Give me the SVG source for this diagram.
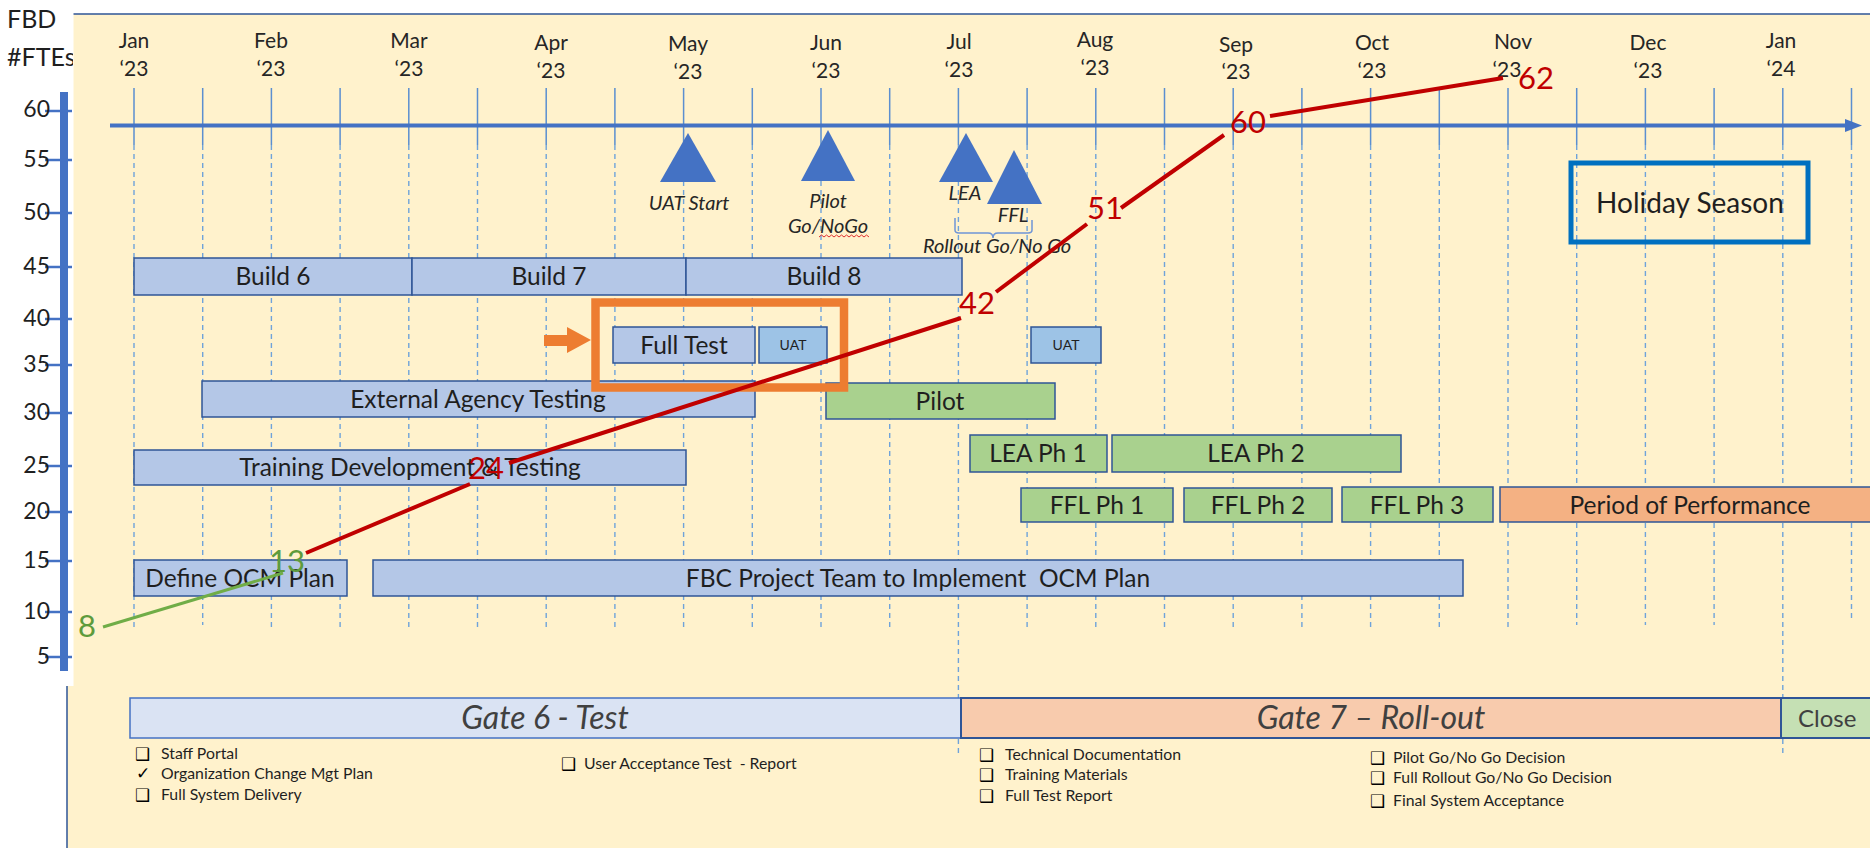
<svg xmlns="http://www.w3.org/2000/svg" width="1870" height="848" viewBox="0 0 1870 848">
<defs>
<style>
text{font-family:Lato,"Liberation Sans",sans-serif;fill:#1f1f1f}
.ylab{font-size:23px;text-anchor:end}
.mon{font-size:21px;text-anchor:middle;fill:#262626}
.bar{stroke:#2F5597;stroke-width:1.5}
.blue{fill:#B4C7E7}
.uat{fill:#9DC3E6}
.green{fill:#A9D18E}
.orange{fill:#F4B183}
.bt{font-size:24.5px;text-anchor:middle}
.st{font-size:14px;text-anchor:middle}
.tri{fill:#4472C4}
.ms{font-size:20px;font-style:italic;text-anchor:middle;fill:#262626}
.grid{stroke:#6FA3DA;stroke-width:1.4;stroke-dasharray:5 4}
.tick{stroke:#5B8FD0;stroke-width:1.5}
.red{stroke:#C00000;stroke-width:4;fill:none}
.num{font-size:31px;text-anchor:middle;fill:#C00000}
.gnum{font-size:31px;text-anchor:middle;fill:#5E9B3C}
.gate{font-size:32px;font-style:italic;text-anchor:middle;fill:#404040}
.cl{font-size:15.8px}
.cb{font-size:17px;font-family:"DejaVu Sans",sans-serif;font-weight:bold;fill:#000}
</style>
<clipPath id="lc"><rect x="0" y="0" width="73" height="100"/></clipPath>
</defs>
<rect x="0" y="0" width="1870" height="848" fill="#FFFFFF"/>
<rect x="67" y="14" width="1820" height="850" fill="#FFF2CC" stroke="#2F5597" stroke-width="1.5"/>
<rect x="0" y="0" width="73.5" height="686" fill="#FFFFFF"/>
<text x="7" y="28" style="font-size:25px">FBD</text>
<text x="7" y="66" style="font-size:25px" clip-path="url(#lc)">#FTEs</text>

<g id="y-axis">
<rect x="60" y="92" width="8" height="579" fill="#4472C4"/>
<g stroke="#4472C4" stroke-width="2.5">
<line x1="45" y1="111" x2="72" y2="111"/><line x1="45" y1="160" x2="72" y2="160"/><line x1="45" y1="213" x2="72" y2="213"/><line x1="45" y1="267" x2="72" y2="267"/><line x1="45" y1="319" x2="72" y2="319"/><line x1="45" y1="365" x2="72" y2="365"/><line x1="45" y1="413" x2="72" y2="413"/><line x1="45" y1="466" x2="72" y2="466"/><line x1="45" y1="512" x2="72" y2="512"/><line x1="45" y1="561" x2="72" y2="561"/><line x1="45" y1="612" x2="72" y2="612"/><line x1="45" y1="657" x2="72" y2="657"/>
</g>
<text class="ylab" x="50" y="117">60</text><text class="ylab" x="50" y="167">55</text><text class="ylab" x="50" y="220">50</text><text class="ylab" x="50" y="274">45</text><text class="ylab" x="50" y="326">40</text><text class="ylab" x="50" y="372">35</text><text class="ylab" x="50" y="420">30</text><text class="ylab" x="50" y="473">25</text><text class="ylab" x="50" y="519">20</text><text class="ylab" x="50" y="568">15</text><text class="ylab" x="50" y="619">10</text><text class="ylab" x="50" y="664">5</text>
</g>

<g id="grid">
<path class="tick" d="M134,88V145M202.7,88V145M271.4,88V145M340.1,88V145M408.8,88V145M477.5,88V145M546.2,88V145M614.9,88V145M683.6,88V145M752.3,88V145M821,88V145M889.7,88V145M958.4,88V145M1027.1,88V145M1095.8,88V145M1164.5,88V145M1233.2,88V145M1301.9,88V145M1370.6,88V145M1439.3,88V145M1508,88V145M1576.7,88V145M1645.4,88V145M1714.1,88V145M1782.8,88V145M1851.5,88V145"/>
<path class="grid" d="M134,145V630M202.7,145V625M271.4,145V630M340.1,145V630M408.8,145V630M477.5,145V630M546.2,145V630M614.9,145V630M683.6,145V630M752.3,145V630M821,145V630M889.7,145V630M958.4,145V757M1027.1,145V630M1095.8,145V630M1164.5,145V630M1233.2,145V630M1301.9,145V630M1370.6,145V630M1439.3,145V630M1508,145V630M1576.7,145V625M1645.4,145V625M1714.1,145V625M1782.8,145V757M1851.5,145V622"/>
</g>

<g id="timeline-axis">
<line x1="110" y1="125.5" x2="1850" y2="125.5" stroke="#4472C4" stroke-width="4"/>
<polygon points="1845,119 1862,125.5 1845,132" fill="#4472C4"/>
</g>

<g id="months">
<text class="mon" x="134" y="48">Jan</text><text class="mon" x="134" y="76">‘23</text>
<text class="mon" x="271" y="48">Feb</text><text class="mon" x="271" y="76">‘23</text>
<text class="mon" x="409" y="48">Mar</text><text class="mon" x="409" y="76">‘23</text>
<text class="mon" x="551" y="50">Apr</text><text class="mon" x="551" y="78">‘23</text>
<text class="mon" x="688" y="51">May</text><text class="mon" x="688" y="79">‘23</text>
<text class="mon" x="826" y="50">Jun</text><text class="mon" x="826" y="78">‘23</text>
<text class="mon" x="959" y="49">Jul</text><text class="mon" x="959" y="77">‘23</text>
<text class="mon" x="1095" y="47">Aug</text><text class="mon" x="1095" y="75">‘23</text>
<text class="mon" x="1236" y="52">Sep</text><text class="mon" x="1236" y="79">‘23</text>
<text class="mon" x="1372" y="50">Oct</text><text class="mon" x="1372" y="78">‘23</text>
<text class="mon" x="1513" y="49">Nov</text><text class="mon" x="1507" y="77">‘23</text>
<text class="mon" x="1648" y="50">Dec</text><text class="mon" x="1648" y="78">‘23</text>
<text class="mon" x="1781" y="48">Jan</text><text class="mon" x="1781" y="76">‘24</text>
</g>

<g id="build6"><rect class="bar blue" x="134" y="258" width="278" height="37"/><text class="bt" x="273" y="285">Build 6</text></g>
<g id="build7"><rect class="bar blue" x="412" y="258" width="274" height="37"/><text class="bt" x="549" y="285">Build 7</text></g>
<g id="build8"><rect class="bar blue" x="686" y="258" width="276" height="37"/><text class="bt" x="824" y="285">Build 8</text></g>

<g id="full-test"><rect class="bar blue" x="613" y="327" width="142" height="36"/><text class="bt" x="684" y="354">Full Test</text></g>
<g id="uat-1"><rect class="bar uat" x="759" y="327" width="68" height="36"/><text class="st" x="793" y="350">UAT</text></g>
<g id="uat-2"><rect class="bar uat" x="1031" y="327" width="70" height="36"/><text class="st" x="1066" y="350">UAT</text></g>
<g id="ext-agency"><rect class="bar blue" x="202" y="381" width="553" height="36"/><text class="bt" x="478" y="408">External Agency Testing</text></g>
<g id="pilot"><rect class="bar green" x="826" y="383" width="229" height="36"/><text class="bt" x="940" y="410">Pilot</text></g>
<g id="training"><rect class="bar blue" x="134" y="450" width="552" height="35"/><text class="bt" x="410" y="476">Training Development &amp; Testing</text></g>
<g id="lea-ph1"><rect class="bar green" x="970" y="435" width="137" height="37"/><text class="bt" x="1038" y="462">LEA Ph 1</text></g>
<g id="lea-ph2"><rect class="bar green" x="1112" y="435" width="289" height="37"/><text class="bt" x="1256" y="462">LEA Ph 2</text></g>
<g id="ffl-ph1"><rect class="bar green" x="1021" y="488" width="152" height="34"/><text class="bt" x="1097" y="514">FFL Ph 1</text></g>
<g id="ffl-ph2"><rect class="bar green" x="1184" y="488" width="148" height="34"/><text class="bt" x="1258" y="514">FFL Ph 2</text></g>
<g id="ffl-ph3"><rect class="bar green" x="1342" y="487" width="151" height="35"/><text class="bt" x="1417" y="514">FFL Ph 3</text></g>
<g id="period"><rect class="bar orange" x="1500" y="487" width="390" height="35"/><text class="bt" x="1690" y="514">Period of Performance</text></g>
<g id="define-ocm"><rect class="bar blue" x="134" y="560" width="213" height="36"/><text class="bt" x="240" y="587">Define OCM Plan</text></g>
<g id="fbc-ocm"><rect class="bar blue" x="373" y="560" width="1090" height="36"/><text class="bt" x="918" y="587" xml:space="preserve">FBC Project Team to Implement  OCM Plan</text></g>

<g id="full-test-highlight">
<rect x="595.5" y="302.5" width="248.5" height="85" fill="none" stroke="#ED7D31" stroke-width="8.5"/>
<polygon points="544,335 567,335 567,327 591,340 567,353 567,346 544,346" fill="#ED7D31"/>
</g>

<g id="holiday"><rect x="1571" y="163" width="237" height="79" fill="none" stroke="#0070C0" stroke-width="5"/><text x="1690" y="213" style="font-size:28px;text-anchor:middle">Holiday Season</text></g>

<g id="ms-uat"><polygon class="tri" points="688,133 716,182 660,182"/><text class="ms" x="689" y="210">UAT Start</text></g>
<g id="ms-pilot"><polygon class="tri" points="828,130 855,181 801,181"/><text class="ms" x="828" y="208">Pilot</text><text class="ms" x="828" y="233">Go/NoGo</text>
<path d="M819,237 l2.5,-2 l2.5,2 l2.5,-2 l2.5,2 l2.5,-2 l2.5,2 l2.5,-2 l2.5,2 l2.5,-2 l2.5,2 l2.5,-2 l2.5,2 l2.5,-2 l2.5,2 l2.5,-2 l2.5,2 l2.5,-2 l2.5,2 l2.5,-2 l2.5,2" fill="none" stroke="#E03030" stroke-width="1"/></g>
<g id="ms-lea"><polygon class="tri" points="966,133 993,182 939,182"/><text class="ms" x="965" y="200">LEA</text></g>
<g id="ms-ffl"><polygon class="tri" points="1014,150 1042,204 987,204"/><text class="ms" x="1013" y="222">FFL</text></g>
<g id="rollout-brace"><path d="M955,218 V230 Q955,233 959,233 H988 Q993,233 993,238 Q993,233 998,233 H1028 Q1032,233 1032,230 V220" fill="none" stroke="#6F95D6" stroke-width="1.5"/><text class="ms" x="997" y="253">Rollout Go/No Go</text></g>

<g id="connectors">
<line x1="103" y1="627" x2="283" y2="573" stroke="#70AD47" stroke-width="3"/>
<line class="red" x1="306" y1="553" x2="470" y2="484"/>
<line class="red" x1="509" y1="463" x2="961" y2="318"/>
<line class="red" x1="996" y1="292" x2="1087" y2="224"/>
<line class="red" x1="1121" y1="208" x2="1224" y2="135"/>
<line class="red" x1="1270" y1="116" x2="1503" y2="78"/>
</g>
<g id="fte-labels">
<text class="gnum" x="87" y="637">8</text>
<text class="gnum" x="287" y="572">13</text>
<text class="num" x="486" y="479">24</text>
<text class="num" x="977" y="314">42</text>
<text class="num" x="1105" y="219">51</text>
<text class="num" x="1248" y="133">60</text>
<text class="num" x="1536" y="89">62</text>
</g>

<g id="gate6"><rect x="130" y="698" width="831" height="40" fill="#DAE3F3" stroke="#4472C4" stroke-width="1.5"/><text class="gate" x="545" y="729">Gate 6 - Test</text></g>
<g id="gate7"><rect x="961" y="698" width="820" height="40" fill="#F8CBAD" stroke="#2F5597" stroke-width="2"/><text class="gate" x="1371" y="729">Gate 7 – Roll-out</text></g>
<g id="close"><rect x="1781" y="698" width="100" height="40" fill="#C5E0B4" stroke="#2F5597" stroke-width="2"/><text x="1798" y="727" style="font-size:24px;fill:#404040">Close</text></g>

<g id="gate6-items">
<text class="cb" x="135" y="760">❑</text><text class="cl" x="161" y="759">Staff Portal</text>
<text class="cb" x="136" y="779">✓</text><text class="cl" x="161" y="779">Organization Change Mgt Plan</text>
<text class="cb" x="135" y="801">❑</text><text class="cl" x="161" y="800">Full System Delivery</text>
<text class="cb" x="561" y="770">❑</text><text class="cl" x="584" y="769" xml:space="preserve">User Acceptance Test  - Report</text>
</g>
<g id="gate7-items">
<text class="cb" x="979" y="761">❑</text><text class="cl" x="1005" y="760">Technical Documentation</text>
<text class="cb" x="979" y="781">❑</text><text class="cl" x="1005" y="780">Training Materials</text>
<text class="cb" x="979" y="802">❑</text><text class="cl" x="1005" y="801">Full Test Report</text>
<text class="cb" x="1370" y="764">❑</text><text class="cl" x="1393" y="763">Pilot Go/No Go Decision</text>
<text class="cb" x="1370" y="784">❑</text><text class="cl" x="1393" y="783">Full Rollout Go/No Go Decision</text>
<text class="cb" x="1370" y="807">❑</text><text class="cl" x="1393" y="806">Final System Acceptance</text>
</g>
</svg>
